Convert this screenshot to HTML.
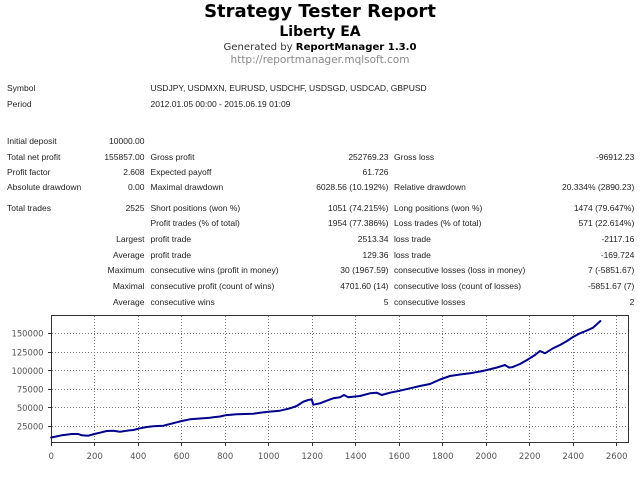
<!DOCTYPE html>
<html>
<head>
<meta charset="utf-8">
<style>
  html,body{margin:0;padding:0;background:#fff;}
  body{width:640px;height:480px;position:relative;overflow:hidden;font-family:"Liberation Sans",sans-serif;}
  .t{position:absolute;white-space:nowrap;}
  .h1{left:0;width:640px;text-align:center;font-family:"DejaVu Sans",sans-serif;font-weight:bold;color:#000;}
  .r{position:absolute;white-space:nowrap;font-size:8.5px;line-height:12px;color:#222;}
  .c1{left:7px;}
  .c2{right:495.5px;text-align:right;}
  .c3{left:150.5px;}
  .c4{right:251.5px;text-align:right;}
  .c5{left:394px;}
  .c6{right:5.7px;text-align:right;}
</style>
</head>
<body>
<div class="t h1" style="top:3px;font-size:18px;line-height:18px;">Strategy Tester Report</div>
<div class="t h1" style="top:25px;font-size:14px;line-height:14px;">Liberty EA</div>
<div class="t" style="left:0;width:640px;text-align:center;top:42px;font-family:'DejaVu Sans',sans-serif;font-size:10.1px;line-height:12px;color:#333;">Generated by <b style="color:#000;">ReportManager 1.3.0</b></div>
<div class="t" style="left:0;width:640px;text-align:center;top:53.5px;font-family:'DejaVu Sans',sans-serif;font-size:10.5px;line-height:12px;color:#888;">http://reportmanager.mqlsoft.com</div>

<div class="r c1" style="top:82px;">Symbol</div>
<div class="r c3" style="top:82px;">USDJPY, USDMXN, EURUSD, USDCHF, USDSGD, USDCAD, GBPUSD</div>
<div class="r c1" style="top:98px;">Period</div>
<div class="r c3" style="top:98px;">2012.01.05 00:00 - 2015.06.19 01:09</div>

<div class="r c1" style="top:135px;">Initial deposit</div>
<div class="r c2" style="top:135px;">10000.00</div>

<div class="r c1" style="top:150.7px;">Total net profit</div>
<div class="r c2" style="top:150.7px;">155857.00</div>
<div class="r c3" style="top:150.7px;">Gross profit</div>
<div class="r c4" style="top:150.7px;">252769.23</div>
<div class="r c5" style="top:150.7px;">Gross loss</div>
<div class="r c6" style="top:150.7px;">-96912.23</div>

<div class="r c1" style="top:166.3px;">Profit factor</div>
<div class="r c2" style="top:166.3px;">2.608</div>
<div class="r c3" style="top:166.3px;">Expected payoff</div>
<div class="r c4" style="top:166.3px;">61.726</div>

<div class="r c1" style="top:181.3px;">Absolute drawdown</div>
<div class="r c2" style="top:181.3px;">0.00</div>
<div class="r c3" style="top:181.3px;">Maximal drawdown</div>
<div class="r c4" style="top:181.3px;">6028.56 (10.192%)</div>
<div class="r c5" style="top:181.3px;">Relative drawdown</div>
<div class="r c6" style="top:181.3px;">20.334% (2890.23)</div>

<div class="r c1" style="top:202.3px;">Total trades</div>
<div class="r c2" style="top:202.3px;">2525</div>
<div class="r c3" style="top:202.3px;">Short positions (won %)</div>
<div class="r c4" style="top:202.3px;">1051 (74.215%)</div>
<div class="r c5" style="top:202.3px;">Long positions (won %)</div>
<div class="r c6" style="top:202.3px;">1474 (79.647%)</div>

<div class="r c3" style="top:217.3px;">Profit trades (% of total)</div>
<div class="r c4" style="top:217.3px;">1954 (77.386%)</div>
<div class="r c5" style="top:217.3px;">Loss trades (% of total)</div>
<div class="r c6" style="top:217.3px;">571 (22.614%)</div>

<div class="r c2" style="top:233.3px;">Largest</div>
<div class="r c3" style="top:233.3px;">profit trade</div>
<div class="r c4" style="top:233.3px;">2513.34</div>
<div class="r c5" style="top:233.3px;">loss trade</div>
<div class="r c6" style="top:233.3px;">-2117.16</div>

<div class="r c2" style="top:249px;">Average</div>
<div class="r c3" style="top:249px;">profit trade</div>
<div class="r c4" style="top:249px;">129.36</div>
<div class="r c5" style="top:249px;">loss trade</div>
<div class="r c6" style="top:249px;">-169.724</div>

<div class="r c2" style="top:264px;">Maximum</div>
<div class="r c3" style="top:264px;">consecutive wins (profit in money)</div>
<div class="r c4" style="top:264px;">30 (1967.59)</div>
<div class="r c5" style="top:264px;">consecutive losses (loss in money)</div>
<div class="r c6" style="top:264px;">7 (-5851.67)</div>

<div class="r c2" style="top:279.7px;">Maximal</div>
<div class="r c3" style="top:279.7px;">consecutive profit (count of wins)</div>
<div class="r c4" style="top:279.7px;">4701.60 (14)</div>
<div class="r c5" style="top:279.7px;">consecutive loss (count of losses)</div>
<div class="r c6" style="top:279.7px;">-5851.67 (7)</div>

<div class="r c2" style="top:295.7px;">Average</div>
<div class="r c3" style="top:295.7px;">consecutive wins</div>
<div class="r c4" style="top:295.7px;">5</div>
<div class="r c5" style="top:295.7px;">consecutive losses</div>
<div class="r c6" style="top:295.7px;">2</div>

<svg width="640" height="480" style="position:absolute;left:0;top:0;" xmlns="http://www.w3.org/2000/svg">
  <g stroke="#777" stroke-width="1" stroke-dasharray="1,2" fill="none">
    <line x1="52" y1="333.5" x2="628" y2="333.5"/>
    <line x1="52" y1="352.5" x2="628" y2="352.5"/>
    <line x1="52" y1="370.5" x2="628" y2="370.5"/>
    <line x1="52" y1="389.5" x2="628" y2="389.5"/>
    <line x1="52" y1="407.5" x2="628" y2="407.5"/>
    <line x1="52" y1="426.5" x2="628" y2="426.5"/>
    <line x1="94.5" y1="316" x2="94.5" y2="443"/>
    <line x1="138.5" y1="316" x2="138.5" y2="443"/>
    <line x1="181.5" y1="316" x2="181.5" y2="443"/>
    <line x1="225.5" y1="316" x2="225.5" y2="443"/>
    <line x1="268.5" y1="316" x2="268.5" y2="443"/>
    <line x1="312.5" y1="316" x2="312.5" y2="443"/>
    <line x1="355.5" y1="316" x2="355.5" y2="443"/>
    <line x1="399.5" y1="316" x2="399.5" y2="443"/>
    <line x1="442.5" y1="316" x2="442.5" y2="443"/>
    <line x1="486.5" y1="316" x2="486.5" y2="443"/>
    <line x1="529.5" y1="316" x2="529.5" y2="443"/>
    <line x1="573.5" y1="316" x2="573.5" y2="443"/>
    <line x1="616.5" y1="316" x2="616.5" y2="443"/>
  </g>
  <rect x="51.5" y="315.5" width="577" height="127" fill="none" stroke="#333" stroke-width="1"/>
  <g stroke="#333" stroke-width="1">
    <line x1="48" y1="333.5" x2="51" y2="333.5"/>
    <line x1="48" y1="352.5" x2="51" y2="352.5"/>
    <line x1="48" y1="370.5" x2="51" y2="370.5"/>
    <line x1="48" y1="389.5" x2="51" y2="389.5"/>
    <line x1="48" y1="407.5" x2="51" y2="407.5"/>
    <line x1="48" y1="426.5" x2="51" y2="426.5"/>
    <line x1="51.5" y1="443" x2="51.5" y2="446"/>
    <line x1="94.5" y1="443" x2="94.5" y2="446"/>
    <line x1="138.5" y1="443" x2="138.5" y2="446"/>
    <line x1="181.5" y1="443" x2="181.5" y2="446"/>
    <line x1="225.5" y1="443" x2="225.5" y2="446"/>
    <line x1="268.5" y1="443" x2="268.5" y2="446"/>
    <line x1="312.5" y1="443" x2="312.5" y2="446"/>
    <line x1="355.5" y1="443" x2="355.5" y2="446"/>
    <line x1="399.5" y1="443" x2="399.5" y2="446"/>
    <line x1="442.5" y1="443" x2="442.5" y2="446"/>
    <line x1="486.5" y1="443" x2="486.5" y2="446"/>
    <line x1="529.5" y1="443" x2="529.5" y2="446"/>
    <line x1="573.5" y1="443" x2="573.5" y2="446"/>
    <line x1="616.5" y1="443" x2="616.5" y2="446"/>
  </g>
  <g font-family="DejaVu Sans, sans-serif" font-size="8.4" fill="#555" text-anchor="end">
    <text x="43.5" y="336.5">150000</text>
    <text x="43.5" y="355.3">125000</text>
    <text x="43.5" y="373.8">100000</text>
    <text x="43.5" y="392.4">75000</text>
    <text x="43.5" y="411">50000</text>
    <text x="43.5" y="429.6">25000</text>
  </g>
  <g font-family="DejaVu Sans, sans-serif" font-size="8.5" fill="#555" text-anchor="middle">
    <text x="51.2" y="458.8">0</text>
    <text x="94.7" y="458.8">200</text>
    <text x="138.2" y="458.8">400</text>
    <text x="181.7" y="458.8">600</text>
    <text x="225.2" y="458.8">800</text>
    <text x="268.7" y="458.8">1000</text>
    <text x="312.2" y="458.8">1200</text>
    <text x="355.7" y="458.8">1400</text>
    <text x="399.2" y="458.8">1600</text>
    <text x="442.7" y="458.8">1800</text>
    <text x="486.2" y="458.8">2000</text>
    <text x="529.7" y="458.8">2200</text>
    <text x="573.2" y="458.8">2400</text>
    <text x="616.7" y="458.8">2600</text>
  </g>
  <polyline fill="none" stroke="#00008b" stroke-width="2" stroke-linejoin="round" stroke-linecap="round"
    points="51.2,437.5 56,436.5 61.7,435.3 66,434.8 71.7,434 78.3,434 81.7,435.3 88.3,435.7 94.3,434 100,432.7 106.7,431 113.3,430.7 120,431.7 126.7,430.7 133.3,430 140,428.3 146.7,427 153.3,426.3 163.3,425.7 170,424 176.7,422.3 181.7,421 190,419.3 200,418.5 210,417.7 213.3,417.3 220,416.5 225.3,415.3 236.7,414.3 253.3,413.7 260,412.8 268.3,411.7 280,410.7 290,408.3 296.7,406 303.3,401.7 308.3,400 311.7,399.3 313.3,404.7 320,403.3 326.7,400.7 333.3,398.3 340,397.3 344,395 348.3,397.3 360,396 370,393.3 376.7,392.7 381.7,395 390,392.7 400,390.7 410,388.3 420,386 430,384 440,379.5 450,376 460,374.5 470,373.3 480,371.5 487,370 497,367.5 505,365 509,367.5 512,367.3 520,364 527,360 535,355 540,351 545,353.3 553,348.3 560,345 567,341 573,337 580,333.3 587,330.5 593,327.7 600.4,321"/>
</svg>
</body>
</html>
